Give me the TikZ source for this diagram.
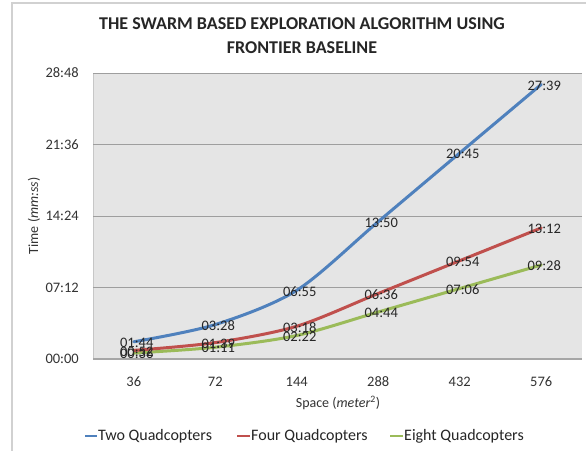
\documentclass[tikz,border=0pt]{standalone}
\usepackage{fontspec}
\setmainfont{Carlito}
\begin{document}
\begin{tikzpicture}[x=1pt,y=-1pt,
  serieslabel/.style={font=\fontsize{14.5}{15}\selectfont, text=black!85, inner sep=0pt},
  ticklabel/.style={font=\fontsize{14.5}{16}\selectfont, text=black!80, inner sep=0pt},
  axistitle/.style={font=\fontsize{14}{15}\selectfont, text=black!80, inner sep=0pt},
  legendtext/.style={font=\fontsize{16}{17}\selectfont, text=black!85, inner sep=0pt, anchor=west},
  seriesline/.style={line width=3pt, line cap=round, line join=round},
  gridline/.style={draw=black!38, line width=1pt}]
\definecolor{twoq}{HTML}{4F81BD}
\definecolor{fourq}{HTML}{C0504D}
\definecolor{eightq}{HTML}{9BBB59}
\useasboundingbox (0,0) rectangle (586,450);
\fill[white] (0,0) rectangle (586,450);
% chart frame
\draw[black!18, line width=1.2pt] (12,460) -- (12,3) -- (600,3);
% title
\node[font=\bfseries\fontsize{18}{24}\selectfont, text=black!85, align=center] (title) at (302,35.5)
  {THE SWARM BASED EXPLORATION ALGORITHM USING\\FRONTIER BASELINE};
% plot area
\fill[black!10] (93,73) rectangle (582,359);
\draw[black!22, line width=1pt] (93,359) -- (93,73) -- (582,73);
\foreach \v/\t in {0/00:00,432/07:12,864/14:24,1296/21:36,1728/28:48}{
  \pgfmathsetmacro{\yy}{359-\v/1728*286}
  \draw[gridline] (93,\yy) -- (582,\yy);
  \node[ticklabel, anchor=east] (tick-\v) at (79,\yy) {\t};
}
\draw[black!35, line width=1.6pt] (93,359) -- (582,359);
% categories
\foreach \i/\c in {1/36,2/72,3/144,4/288,5/432,6/576}{
  \node[ticklabel] (cat-\i) at ({93+(\i-0.5)*81.5},382) {\c};
}
\node[axistitle] (xtitle) at (338,403) {Space (\textit{meter}\textsuperscript{2})};
\node[axistitle, rotate=90] (ytitle) at (34,216) {Time (\textit{mm:ss})};
% data points
\foreach \i/\s in {1/104,2/208,3/415,4/830,5/1245,6/1659}{
  \coordinate (two-\i) at ({93+(\i-0.5)*81.5},{359-\s/1728*286});}
\foreach \i/\s in {1/52,2/99,3/198,4/396,5/594,6/792}{
  \coordinate (four-\i) at ({93+(\i-0.5)*81.5},{359-\s/1728*286});}
\foreach \i/\s in {1/36,2/71,3/142,4/284,5/426,6/568}{
  \coordinate (eight-\i) at ({93+(\i-0.5)*81.5},{359-\s/1728*286});}
% series
\draw[seriesline, eightq] plot[smooth, tension=0.5] coordinates {(eight-1) (eight-2) (eight-3) (eight-4) (eight-5) (eight-6)};
\draw[seriesline, fourq] plot[smooth, tension=0.5] coordinates {(four-1) (four-2) (four-3) (four-4) (four-5) (four-6)};
\draw[seriesline, twoq] plot[smooth, tension=0.5] coordinates {(two-1) (two-2) (two-3) (two-4) (two-5) (two-6)};
% data labels
\foreach \i/\t in {1/01:44,2/03:28,3/06:55,4/13:50,5/20:45,6/27:39}{
  \node[serieslabel] (two-lab-\i) at ([xshift=3pt,yshift=-1pt]two-\i) {\t};}
\foreach \i/\t in {1/00:52,2/01:39,3/03:18,4/06:36,5/09:54,6/13:12}{
  \node[serieslabel] (four-lab-\i) at ([xshift=3pt,yshift=-1pt]four-\i) {\t};}
\foreach \i/\t in {1/00:36,2/01:11,3/02:22,4/04:44,5/07:06,6/09:28}{
  \node[serieslabel] (eight-lab-\i) at ([xshift=3pt,yshift=-1pt]eight-\i) {\t};}
% legend
\coordinate (lg1a) at (85,436); \coordinate (lg1b) at (97,436);
\coordinate (lg2a) at (237,436); \coordinate (lg2b) at (250,436);
\coordinate (lg3a) at (390,436); \coordinate (lg3b) at (403,436);
\draw[twoq, line width=2.6pt] (lg1a) -- (lg1b);
\node[legendtext] (leg-two) at ([xshift=1pt]lg1b) {Two Quadcopters};
\draw[fourq, line width=2.6pt] (lg2a) -- (lg2b);
\node[legendtext] (leg-four) at ([xshift=1pt]lg2b) {Four Quadcopters};
\draw[eightq, line width=2.6pt] (lg3a) -- (lg3b);
\node[legendtext] (leg-eight) at ([xshift=1pt]lg3b) {Eight Quadcopters};
\end{tikzpicture}
\end{document}
